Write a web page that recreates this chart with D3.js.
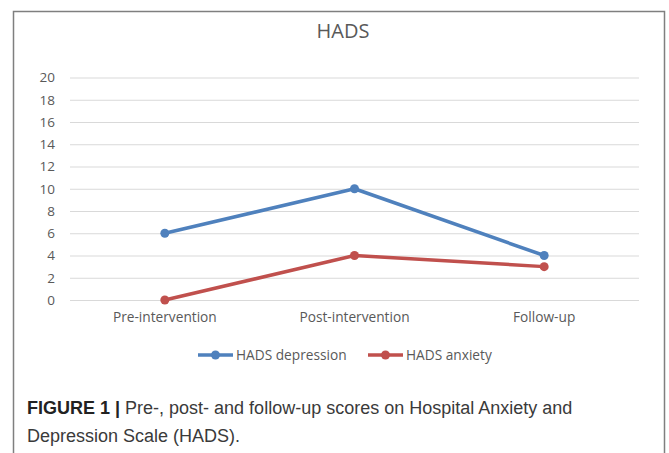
<!DOCTYPE html>
<html>
<head>
<meta charset="utf-8">
<script src="https://cdn.jsdelivr.net/npm/d3@7"></script>
<style>
  body { margin: 0; background: #fff; }
  svg { display: block; }
</style>
</head>
<body>
<script>
// data
const categories = ["Pre-intervention", "Post-intervention", "Follow-up"];
const depression = [6, 10, 4];
const anxiety = [0, 4, 3];
const yTicks = [0, 2, 4, 6, 8, 10, 12, 14, 16, 18, 20];
const seriesNames = ["HADS depression", "HADS anxiety"];
const seriesColors = ["#4F81BD", "#C0504D"];

const W = 669, H = 453;
const svg = d3.select("body").append("svg")
    .attr("width", W)
    .attr("height", H);

// outer frame (left, top, right)
svg.append("path")
    .attr("d", "M13.5,460 V11.5 H664.5 V460")
    .attr("fill", "none")
    .attr("stroke", "#7f7f7f")
    .attr("stroke-width", 1.5);

const plot = { left: 70, right: 639, top: 77.5, bottom: 300 };

const x = d3.scaleBand()
    .domain(categories)
    .range([plot.left, plot.right]);
const y = d3.scaleLinear()
    .domain([0, 20])
    .range([plot.bottom, plot.top]);

const font = "'Open Sans', 'Noto Sans', sans-serif";

// title
svg.append("text")
    .attr("x", 343)
    .attr("y", 38)
    .attr("text-anchor", "middle")
    .attr("font-family", font)
    .attr("font-size", 20)
    .attr("fill", "#595959")
    .text("HADS");

// gridlines + y axis labels
const yAxis = d3.axisLeft(y)
    .tickValues(yTicks)
    .tickSize(-(plot.right - plot.left))
    .tickPadding(15);
const gy = svg.append("g")
    .attr("transform", `translate(${plot.left},0)`)
    .call(yAxis);
gy.select(".domain").remove();
gy.selectAll(".tick line").attr("stroke", "#d9d9d9").attr("stroke-width", 1);
gy.selectAll(".tick text")
    .attr("font-family", font)
    .attr("font-size", 13.5)
    .attr("fill", "#595959");

// x axis labels
const xAxis = d3.axisBottom(x).tickSize(0).tickPadding(12);
const gx = svg.append("g")
    .attr("transform", `translate(0,${plot.bottom})`)
    .call(xAxis);
gx.select(".domain").remove();
gx.selectAll(".tick text")
    .attr("font-family", font)
    .attr("font-size", 13.7)
    .attr("fill", "#595959");

const line = d3.line()
    .x((d, i) => x(categories[i]) + x.bandwidth() / 2)
    .y(d => y(d));

[depression, anxiety].forEach((vals, s) => {
    svg.append("path")
        .datum(vals)
        .attr("d", line)
        .attr("fill", "none")
        .attr("stroke", seriesColors[s])
        .attr("stroke-width", 3.5)
        .attr("stroke-linejoin", "round");
    svg.selectAll(null)
        .data(vals)
        .enter().append("circle")
        .attr("cx", (d, i) => x(categories[i]) + x.bandwidth() / 2)
        .attr("cy", d => y(d))
        .attr("r", 4.5)
        .attr("fill", seriesColors[s]);
});

// legend
const legendX = [198, 368];
seriesNames.forEach((name, s) => {
    const g = svg.append("g").attr("transform", `translate(${legendX[s]},355)`);
    g.append("line")
        .attr("x1", 0).attr("x2", 35)
        .attr("stroke", seriesColors[s])
        .attr("stroke-width", 3.5);
    g.append("circle")
        .attr("cx", 17.5).attr("r", 4.5)
        .attr("fill", seriesColors[s]);
    g.append("text")
        .attr("x", 38).attr("y", 5)
        .attr("font-family", font)
        .attr("font-size", 13.7)
        .attr("fill", "#595959")
        .text(name);
});

// caption
const cap = svg.append("text")
    .attr("font-family", "'Liberation Sans', Arial, sans-serif")
    .attr("font-size", 18)
    .attr("fill", "#3a3a3a");
const l1 = cap.append("tspan").attr("x", 27).attr("y", 414);
l1.append("tspan").attr("font-weight", "bold").attr("fill", "#222").text("FIGURE 1 | ");
l1.append("tspan").text("Pre-, post- and follow-up scores on Hospital Anxiety and");
cap.append("tspan").attr("x", 27).attr("y", 442).text("Depression Scale (HADS).");
</script>
</body>
</html>
